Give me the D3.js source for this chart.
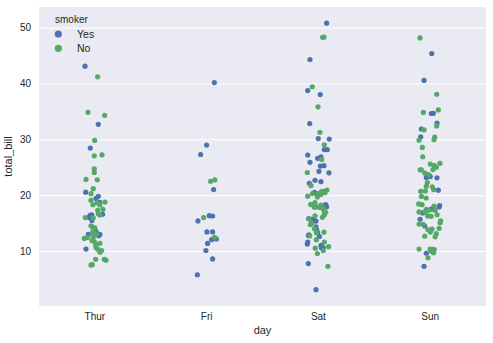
<!DOCTYPE html>
<html><head><meta charset="utf-8">
<script src="https://cdn.jsdelivr.net/npm/d3@7"></script>
<style>body{margin:0;background:#fff}text{font-family:"Liberation Sans",Arial,sans-serif;fill:#262626}</style>
</head><body><svg id="c" width="493" height="343"></svg>
<script>
const days = ["Thur", "Fri", "Sat", "Sun"];
const smokerLevels = ["Yes", "No"];
const yTicks = [10, 20, 30, 40, 50];

const thurYesBill = [19.44, 32.68, 16.0, 19.81, 28.44, 15.48, 16.58, 10.34, 43.11, 13.0, 13.51, 18.71, 12.74, 13.0, 16.4, 20.53, 16.47];
const thurYesJit  = [1.1, 3.4, -5.6, 3.4, -4.6, -2.9, 7.8, -8.9, -9.9, -6.6, 1.1, 4.8, 3.8, 5.0, -4.9, -9.2, -3.2];
const thurNoBill = [27.2, 22.76, 17.29, 16.66, 10.07, 15.98, 34.83, 13.03, 18.28, 24.71, 21.16, 10.65, 12.43, 24.08, 11.69, 13.42, 14.26, 15.95, 12.48, 29.8, 8.52, 14.52, 11.38, 22.82, 19.08, 20.27, 11.17, 12.26, 18.26, 8.51, 10.33, 14.15, 13.16, 17.47, 34.3, 41.19, 27.05, 16.43, 8.35, 18.64, 11.87, 9.78, 7.51, 7.56, 18.78];
const thurNoJit  = [7.1, 2.4, 2.8, 3.4, 6.8, -9.6, -6.9, 1.8, -2.0, -0.6, -1.6, 1.1, -7.6, -0.6, -0.6, -2.2, -2.2, -1.6, -1.6, -0.2, 0.8, -3.9, 5.1, -8.9, -3.9, -3.9, 1.0, -10.6, 5.0, 9.4, 2.8, 0.0, -0.9, 8.1, 9.8, 2.8, -0.6, 5.0, 11.1, 2.0, -2.9, 5.1, -3.9, -2.6, 10.1];

const friYesBill = [28.97, 5.75, 16.32, 40.17, 27.28, 12.03, 21.01, 11.35, 15.38, 12.16, 13.42, 8.58, 13.42, 16.27, 10.09];
const friYesJit  = [0, -9.3, 2.7, 7.7, -6, 5, 7, 1, -8.7, 9.7, 0.3, 6, 6, 6, -0.7];
const friNoBill = [22.49, 22.75, 12.46, 15.98];
const friNoJit  = [4, 8.3, 8, -3];

const satYesBill = [38.01, 11.24, 20.29, 13.81, 11.02, 18.29, 3.07, 15.01, 26.86, 25.28, 17.92, 44.3, 22.42, 15.36, 20.49, 25.21, 14.31, 10.59, 10.63, 50.81, 15.81, 26.59, 38.73, 24.27, 12.76, 30.06, 25.89, 13.27, 28.17, 12.9, 28.15, 11.59, 7.74, 30.14, 22.12, 24.01, 15.69, 15.53, 12.6, 32.83, 27.18, 22.67];
const satYesJit  = [1.9, -11.1, -1.7, -1.7, 2.6, 7.3, -2.4, -6.7, 2.6, 5.6, 8.3, -8.4, 2.6, -2.4, -4, 2, -2.4, 3, 4.9, 8.3, -9.7, -0.7, -10.7, 0.6, -10, 10.9, -8.4, -0.7, 5.9, -9.4, 8.9, -10.7, -10.1, -0.1, -9.1, 10.6, -6.7, -4.6, 1, -8.7, -10.7, -3.4];
const satNoBill = [20.65, 17.92, 20.29, 15.77, 39.42, 19.82, 17.81, 13.37, 12.69, 21.7, 19.65, 9.55, 18.35, 15.06, 20.69, 17.78, 24.06, 16.31, 16.93, 18.69, 31.27, 16.04, 26.41, 48.27, 17.59, 20.08, 16.45, 20.23, 12.02, 17.07, 14.73, 10.51, 20.92, 18.24, 14.0, 7.25, 48.33, 20.45, 13.28, 11.61, 10.77, 10.07, 35.83, 29.03, 17.82];
const satNoJit  = [3, -1.4, -6, -9.4, -6.1, -10.7, 1.3, 5.6, -8.7, -7.4, -1, -1, -7.7, -7, 5, 3.5, -11.1, -3.4, 7.3, -3.4, 1.6, 4, 3.3, 4.3, 4.6, 2.3, 5.9, 0, -2, 6, -8.1, -3.1, 8.6, 2.6, -4, 9.6, 5.6, 6.6, -2, 6, 10.2, 4.9, -0.4, 5.9, -4];

const sunYesBill = [17.51, 7.25, 31.85, 16.82, 32.9, 17.89, 14.48, 9.6, 34.63, 34.65, 23.33, 45.35, 23.17, 40.55, 20.9, 30.46, 18.15, 23.1, 15.69];
const sunYesJit  = [1.2, -6.1, -8.8, -7.4, 6.9, 9, -5.4, -3.8, 1.2, 3.2, 0.2, 1.6, -3.8, -6.1, 8.2, -9.4, 9.6, 6.9, -10.1];
const sunNoBill = [16.99, 10.34, 21.01, 23.68, 24.59, 25.29, 8.77, 26.88, 15.04, 14.78, 10.27, 35.26, 15.42, 18.43, 14.83, 21.58, 10.33, 16.29, 16.97, 17.46, 13.94, 9.68, 30.4, 18.29, 22.23, 32.4, 28.55, 18.04, 12.54, 10.29, 34.81, 9.94, 25.56, 19.49, 38.07, 23.95, 25.71, 17.31, 29.93, 14.07, 13.13, 17.26, 24.55, 19.77, 29.85, 48.17, 25.0, 13.39, 16.49, 21.5, 12.66, 16.21, 13.81, 24.52, 20.76, 31.71, 20.69];
const sunNoJit  = [-11.1, -11.1, 3.5, -1.5, 2.9, 4.2, -2.1, -7.4, 10, -7, 4.2, 8.2, 10.6, -11.4, -11.1, -3.8, 0, -2.4, -5, -3.8, 1.9, 3.5, 4.6, -8.1, -2.8, 6.6, -7.8, 3.9, 5, 2.3, -6.8, 1.2, 0.2, -4, 6.6, -5.4, 9.9, -1.1, 3.9, 9, 6.2, 5, -10, -8.7, -11.1, -10.1, 6.2, 0.2, 7, 2.2, -5.4, 1, -2.1, -8.8, -4.8, -6.1, -9.4];

// jitter values are in 1/112ths of one category step
const groups = [
  ["Thur","Yes",thurYesBill,thurYesJit],["Thur","No",thurNoBill,thurNoJit],
  ["Fri","Yes",friYesBill,friYesJit],["Fri","No",friNoBill,friNoJit],
  ["Sat","Yes",satYesBill,satYesJit],["Sat","No",satNoBill,satNoJit],
  ["Sun","Yes",sunYesBill,sunYesJit],["Sun","No",sunNoBill,sunNoJit]
];

const W = 493, H = 343;
const m = {left: 39, right: 7, top: 7, bottom: 37};
const svg = d3.select("#c");
const x = d3.scaleBand().domain(days).range([m.left, W - m.right]).padding(0);
const y = d3.scaleLinear().domain([0.15, 53.7]).range([H - m.bottom, m.top]);
const color = d3.scaleOrdinal().domain(smokerLevels).range(["#4C72B0", "#55A868"]);

svg.append("rect").attr("x", m.left).attr("y", m.top)
  .attr("width", W - m.left - m.right).attr("height", H - m.top - m.bottom).attr("fill", "#EAEAF2");

const yAxis = svg.append("g").attr("transform", `translate(${m.left},0)`)
  .call(d3.axisLeft(y).tickValues(yTicks).tickSize(-(W - m.left - m.right)).tickPadding(8));
yAxis.select(".domain").remove();
yAxis.selectAll("line").attr("stroke", "#fff").attr("stroke-width", 1);
yAxis.selectAll("text").attr("font-size", 10).attr("fill", "#262626");

const xAxis = svg.append("g").attr("transform", `translate(0,${H - m.bottom})`)
  .call(d3.axisBottom(x).tickSize(0).tickPadding(7));
xAxis.select(".domain").remove();
xAxis.selectAll("text").attr("font-size", 10).attr("fill", "#262626");

const pts = [];
groups.forEach(([day, smk, bills, jits]) => {
  bills.forEach((b, i) => pts.push({day, smk, b, j: jits[i]}));
});
svg.append("g").selectAll("circle").data(pts).join("circle")
  .attr("cx", d => x(d.day) + x.bandwidth() / 2 + d.j / 112 * x.step())
  .attr("cy", d => y(d.b))
  .attr("r", 2.6)
  .attr("fill", d => color(d.smk));

svg.append("text").attr("x", (m.left + W - m.right) / 2).attr("y", 334)
  .attr("text-anchor", "middle").attr("font-size", 11).text("day");
svg.append("text").attr("transform", `translate(12,${(m.top + H - m.bottom) / 2}) rotate(-90)`)
  .attr("text-anchor", "middle").attr("font-size", 11).text("total_bill");

const lg = svg.append("g");
lg.append("text").attr("x", 55).attr("y", 23).attr("font-size", 10).text("smoker");
smokerLevels.forEach((s, i) => {
  lg.append("circle").attr("cx", 58.3).attr("cy", 34 + i * 14.3).attr("r", 3.6).attr("fill", color(s));
  lg.append("text").attr("x", 77).attr("y", 37.7 + i * 14.3).attr("font-size", 10.5).text(s);
});
</script></body></html>
